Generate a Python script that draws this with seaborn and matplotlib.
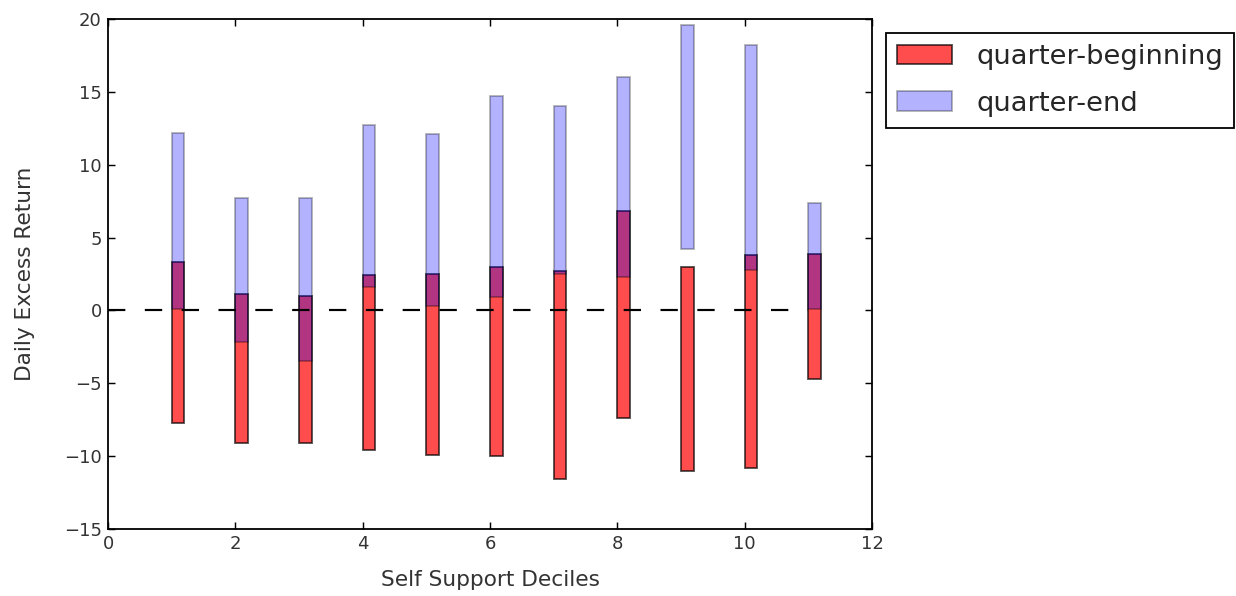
import numpy as np
import matplotlib
matplotlib.use('Agg')
import matplotlib.pyplot as plt
import seaborn as sns

# Deciles and floating bar ranges (low, high)
deciles = [1, 2, 3, 4, 5, 6, 7, 8, 9, 10, 11]
beg_low = [-7.7, -9.1, -9.1, -9.6, -9.9, -10.0, -11.6, -7.4, -11.0, -10.8, -4.7]
beg_high = [3.3, 1.1, 1.0, 2.4, 2.5, 3.0, 2.7, 6.8, 3.0, 3.8, 3.9]
end_low = [0.1, -2.2, -3.5, 1.6, 0.3, 0.9, 2.5, 2.3, 4.2, 2.8, 0.1]
end_high = [12.2, 7.7, 7.7, 12.7, 12.1, 14.7, 14.0, 16.0, 19.6, 18.2, 7.4]

sns.set_style('ticks')
plt.rcParams['font.family'] = ['DejaVu Sans']
plt.rcParams['xtick.direction'] = 'in'
plt.rcParams['ytick.direction'] = 'in'
plt.rcParams['xtick.top'] = True
plt.rcParams['ytick.right'] = True

fig, ax = plt.subplots(figsize=(1236 / 130, 596 / 130), dpi=130)
fig.subplots_adjust(left=108 / 1236, right=872 / 1236, top=1 - 19 / 596, bottom=1 - 529 / 596)

x = np.array(deciles)
h_beg = np.array(beg_high) - np.array(beg_low)
h_end = np.array(end_high) - np.array(end_low)

ax.bar(x, h_beg, width=0.2, bottom=beg_low, align='edge', color='r', alpha=0.7,
       edgecolor='k', linewidth=1.0, label='quarter-beginning')
ax.bar(x, h_end, width=0.2, bottom=end_low, align='edge', color='b', alpha=0.3,
       edgecolor='k', linewidth=1.0, label='quarter-end')
ax.hlines(0, 0, deciles[-1], colors='k', linestyles=(0, (8, 9)), linewidth=1.2)

ax.set_xlim(0, 12)
ax.set_ylim(-15, 20)
ax.set_xticks(range(0, 13, 2))
ax.set_yticks(range(-15, 21, 5))
ax.tick_params(labelsize=10, length=4, width=0.8, colors='k', labelcolor='#333333')
for s in ax.spines.values():
    s.set_color('k')
    s.set_linewidth(1.0)

ax.set_xlabel('Self Support Deciles', fontsize=12, color='#333333', labelpad=9)
ax.set_ylabel('Daily Excess Return', fontsize=12, color='#333333', labelpad=16)

leg = ax.legend(loc='upper left', bbox_to_anchor=(1.018, 0.9725), borderaxespad=0,
                fontsize=15.2, fancybox=False, framealpha=1, edgecolor='k',
                handlelength=2.0, labelspacing=0.75, handletextpad=0.9)
leg.get_frame().set_linewidth(1.0)

fig.savefig('out.png', dpi=130)
